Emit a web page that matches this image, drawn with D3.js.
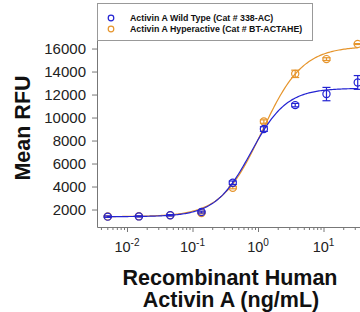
<!DOCTYPE html>
<html>
<head>
<meta charset="utf-8">
<script src="https://cdn.jsdelivr.net/npm/d3@7"></script>
<style>
  body { margin: 0; background: #fff; }
  svg { font-family: "Liberation Sans", Arial, sans-serif; }
</style>
</head>
<body>
<div id="chart"></div>
<script>
// concentrations (ng/mL), 3-fold dilutions
const concentrations = [0.00508, 0.0152, 0.0457, 0.137, 0.412, 1.23, 3.70, 11.1, 33.3];
const wildType      = [1380, 1400, 1500, 1780, 4330, 9000, 11080, 12040, 13050];
const wildTypeErr   = [60, 50, 60, 80, 150, 200, 150, 580, 600];
const hyperactive   = [1400, 1420, 1500, 1700, 3900, 9650, 13800, 15080, 16390];
const hyperErr      = [50, 50, 60, 80, 100, 150, 320, 120, 40];
// 4PL fit: bottom, top, EC50, hill
const wildTypeFit   = [1380, 12550, 0.78, 1.6];
const hyperFit      = [1380, 16200, 1.15, 1.4];
const yTicks = [2000, 4000, 6000, 8000, 10000, 12000, 14000, 16000];
const xTicks = [0.01, 0.1, 1, 10];
const xTickExp = ["-2", "-1", "0", "1"];
const legendLabels = ["Activin A Wild Type (Cat # 338-AC)", "Activin A Hyperactive (Cat # BT-ACTAHE)"];

const blue = "#2323d2", orange = "#e6952c";

const svg = d3.select("#chart").append("svg")
  .attr("width", 360)
  .attr("height", 312);

const x = d3.scaleLog().domain([Math.pow(10, -2.458), Math.pow(10, 1.603)]).range([97, 363]);
const y = d3.scaleLinear().domain([480, 19700]).range([227, 6]);

// y axis
const yAxis = svg.append("g")
  .attr("transform", "translate(97,0)")
  .call(d3.axisLeft(y).tickValues(yTicks).tickSize(5).tickSizeOuter(0).tickPadding(6).tickFormat(d3.format("d")));
yAxis.select(".domain").attr("stroke", "#777");
yAxis.selectAll(".tick line").attr("stroke", "#777");
yAxis.selectAll("text").attr("font-size", 15).attr("fill", "#222").attr("font-family", "Liberation Sans, Arial, sans-serif");

// x axis with minor ticks
let minor = [];
for (let e = -3; e <= 1; e++) {
  for (let m = 1; m <= 9; m++) {
    let v = m * Math.pow(10, e);
    if (v >= x.domain()[0] && v <= x.domain()[1]) minor.push(v);
  }
}
const xAxis = svg.append("g")
  .attr("transform", "translate(0,227)")
  .call(d3.axisBottom(x).tickValues(minor).tickSizeOuter(0).tickFormat(""));
xAxis.select(".domain").attr("stroke", "#777");
xAxis.selectAll(".tick line")
  .attr("stroke", "#777")
  .attr("y2", function(d) { return xTicks.indexOf(d) >= 0 ? 5 : 3; });

const xl = svg.append("g").selectAll("text")
  .data(xTicks)
  .enter().append("text")
  .attr("x", function(d) { return x(d); })
  .attr("y", 252)
  .attr("text-anchor", "middle")
  .attr("font-size", 14.5)
  .attr("fill", "#222");
xl.append("tspan").text("10");
xl.append("tspan").attr("dy", -6).attr("font-size", 10).text(function(d, i) { return xTickExp[i]; });

// fitted curves
function fourPL(p) {
  return function(c) { return p[0] + (p[1] - p[0]) / (1 + Math.pow(p[2] / c, p[3])); };
}
const curveX = d3.range(0, 201).map(function(i) {
  return Math.pow(10, Math.log10(concentrations[0]) + i / 200 * (Math.log10(concentrations[8]) - Math.log10(concentrations[0])));
});
const line = d3.line().x(function(d) { return x(d[0]); }).y(function(d) { return y(d[1]); });

function drawSeries(vals, errs, fit, col) {
  const f = fourPL(fit);
  svg.append("path")
    .attr("d", line(curveX.map(function(c) { return [c, f(c)]; })))
    .attr("fill", "none")
    .attr("stroke", col)
    .attr("stroke-width", 1.2);

  const g = svg.append("g").attr("stroke", col).attr("fill", "none").attr("stroke-width", 1.2);
  concentrations.forEach(function(c, i) {
    const cx = x(c), hi = y(vals[i] + errs[i]), lo = y(vals[i] - errs[i]);
    g.append("line").attr("x1", cx).attr("x2", cx).attr("y1", hi).attr("y2", lo);
    g.append("line").attr("x1", cx - 4).attr("x2", cx + 4).attr("y1", hi).attr("y2", hi);
    g.append("line").attr("x1", cx - 4).attr("x2", cx + 4).attr("y1", lo).attr("y2", lo);
    g.append("circle").attr("cx", cx).attr("cy", y(vals[i])).attr("r", 3.6);
  });
}
drawSeries(hyperactive, hyperErr, hyperFit, orange);
drawSeries(wildType, wildTypeErr, wildTypeFit, blue);

// legend
const leg = svg.append("g");
leg.append("rect")
  .attr("x", 97.5).attr("y", 3.5).attr("width", 215).attr("height", 37)
  .attr("fill", "#fff").attr("stroke", "#999");
[blue, orange].forEach(function(col, i) {
  leg.append("circle").attr("cx", 111).attr("cy", 18 + i * 11).attr("r", 2.8)
    .attr("fill", "none").attr("stroke", col).attr("stroke-width", 1.2);
  leg.append("text").attr("x", 130).attr("y", 21 + i * 11)
    .attr("font-size", 8.8).attr("font-weight", "bold").attr("fill", "#111")
    .text(legendLabels[i]);
});

// axis titles
svg.append("text")
  .attr("transform", "translate(30,128) rotate(-90)")
  .attr("text-anchor", "middle")
  .attr("font-size", 21.5).attr("font-weight", "bold").attr("fill", "#111")
  .text("Mean RFU");
svg.append("text")
  .attr("x", 230).attr("y", 285)
  .attr("text-anchor", "middle")
  .attr("font-size", 21.5).attr("font-weight", "bold").attr("fill", "#111")
  .text("Recombinant Human");
svg.append("text")
  .attr("x", 231).attr("y", 307)
  .attr("text-anchor", "middle")
  .attr("font-size", 21.5).attr("font-weight", "bold").attr("fill", "#111")
  .text("Activin A (ng/mL)");
</script>
</body>
</html>
